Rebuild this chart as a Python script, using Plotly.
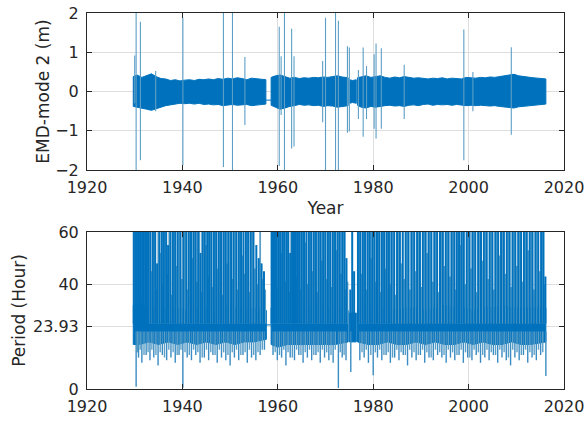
import plotly.graph_objects as go

# ---------------- EMD mode 2 (m): envelope of the dense oscillation ----------------
emd_years_a = [1929.7, 1930.5, 1931.5, 1932.5, 1933.5, 1934.5, 1935.5, 1936.5, 1937.5, 1938.5,
               1939.5, 1940.5, 1941.5, 1942.5, 1943.5, 1944.5, 1945.5, 1946.5, 1947.5, 1948.5,
               1949.5, 1950.5, 1951.5, 1952.5, 1953.5, 1954.5, 1955.5, 1956.5, 1957.5]
emd_hi_a = [0.38, 0.42, 0.36, 0.40, 0.45, 0.38, 0.33, 0.32, 0.28, 0.30, 0.27, 0.29, 0.30, 0.28,
            0.31, 0.30, 0.32, 0.30, 0.33, 0.31, 0.34, 0.32, 0.35, 0.33, 0.30, 0.34, 0.33, 0.31, 0.30]
emd_lo_a = [-0.38, -0.40, -0.42, -0.45, -0.48, -0.44, -0.40, -0.36, -0.33, -0.32, -0.30, -0.31,
            -0.30, -0.32, -0.30, -0.33, -0.32, -0.34, -0.33, -0.36, -0.34, -0.33, -0.35, -0.34,
            -0.33, -0.36, -0.34, -0.33, -0.32]

emd_years_b = [1958.6, 1959.5, 1960.5, 1961.5, 1962.5, 1963.5, 1964.5, 1965.5, 1966.5, 1967.5,
               1968.5, 1969.5, 1970.5, 1971.5, 1972.5, 1973.5, 1974.75]
emd_hi_b = [0.36, 0.40, 0.42, 0.38, 0.34, 0.36, 0.33, 0.35, 0.34, 0.36, 0.35, 0.37, 0.36, 0.38,
            0.40, 0.37, 0.35]
emd_lo_b = [-0.35, -0.40, -0.45, -0.42, -0.38, -0.36, -0.33, -0.35, -0.34, -0.36, -0.35, -0.38,
            -0.36, -0.37, -0.40, -0.38, -0.36]

emd_years_c = [1975.0, 1975.7, 1976.45]
emd_hi_c = [0.30, 0.28, 0.30]
emd_lo_c = [-0.30, -0.28, -0.30]

emd_years_d = [1976.7, 1977.5, 1978.5, 1979.5, 1980.5, 1981.5, 1982.5, 1983.5, 1984.5, 1985.5,
               1986.5, 1987.5, 1988.5, 1989.5, 1990.5, 1991.5, 1992.5, 1993.5, 1994.5, 1995.5,
               1996.5, 1997.5, 1998.5, 1999.5, 2000.5, 2001.5, 2002.5, 2003.5, 2004.5, 2005.5,
               2006.5, 2007.5, 2008.5, 2009.5, 2010.5, 2011.5, 2012.5, 2013.5, 2014.5, 2015.5,
               2016.2]
emd_hi_d = [0.35, 0.38, 0.40, 0.36, 0.38, 0.40, 0.36, 0.34, 0.37, 0.35, 0.38, 0.36, 0.34, 0.35,
            0.33, 0.32, 0.34, 0.33, 0.35, 0.32, 0.34, 0.33, 0.32, 0.36, 0.35, 0.34, 0.36, 0.35,
            0.37, 0.36, 0.38, 0.40, 0.42, 0.44, 0.40, 0.38, 0.36, 0.35, 0.34, 0.33, 0.32]
emd_lo_d = [-0.35, -0.40, -0.42, -0.38, -0.40, -0.38, -0.36, -0.35, -0.37, -0.36, -0.38, -0.35,
            -0.34, -0.36, -0.33, -0.32, -0.35, -0.33, -0.34, -0.33, -0.35, -0.33, -0.34, -0.36,
            -0.35, -0.36, -0.35, -0.36, -0.37, -0.36, -0.38, -0.40, -0.41, -0.42, -0.39, -0.37,
            -0.36, -0.35, -0.34, -0.33, -0.32]

# isolated EMD excursions: year, max, min
emd_spike_years = [1930.0, 1930.3, 1931.2, 1934.4, 1940.1, 1948.6, 1950.5, 1953.1, 1960.3, 1960.7,
                   1961.4, 1962.9, 1963.4, 1969.4, 1970.0, 1972.1, 1972.7, 1974.6, 1975.0, 1976.9,
                   1977.9, 1978.6, 1980.2, 1980.6, 1981.7, 1986.5, 1999.0, 2000.9, 2008.95]
emd_spike_max = [0.92, 2.0, 1.78, 0.52, 1.88, 2.0, 2.0, 0.88, 1.65, 0.90,
                 2.0, 1.60, 0.90, 0.78, 1.88, 2.0, 1.80, 1.15, 1.12, 0.55,
                 1.12, 0.65, 0.95, 1.22, 1.10, 0.68, 1.58, 0.50, 1.13]
emd_spike_min = [-0.30, -2.0, -1.75, -0.50, -1.88, -1.92, -2.0, -0.85, -1.90, -0.60,
                 -2.0, -1.45, -1.40, -0.78, -2.0, -2.0, -2.0, -1.05, -1.02, -0.70,
                 -1.15, -0.70, -0.95, -1.20, -0.95, -0.70, -1.75, -0.50, -1.10]

# data gap bridge (1957.5 - 1958.6)
emd_gap_years = [1957.5, 1958.6]
emd_gap_vals = [-0.22, -0.22]

# ---------------- Instantaneous period (hour) ----------------
per_years_a = [1929.7, 1931.0, 1933.0, 1935.0, 1937.0, 1939.0, 1941.0, 1943.0, 1945.0, 1947.0,
               1949.0, 1951.0, 1953.0, 1955.0, 1957.6]
per_hi_a = [32, 33, 31, 31, 30, 31, 30, 31, 31, 30, 31, 31, 30, 31, 30]
per_lo_a = [17, 17, 18, 17, 18, 17, 18, 17, 18, 17, 18, 17, 18, 18, 19]

per_years_b = [1958.6, 1960.0, 1962.0, 1964.0, 1966.0, 1968.0, 1970.0, 1972.0, 1974.75]
per_hi_b = [31, 32, 31, 31, 31, 32, 31, 32, 30]
per_lo_b = [17, 16, 17, 17, 17, 17, 17, 17, 18]

per_years_c = [1975.0, 1976.45]
per_hi_c = [29, 29]
per_lo_c = [18, 18]

per_years_d = [1976.7, 1979.0, 1981.0, 1983.0, 1985.0, 1987.0, 1989.0, 1991.0, 1993.0, 1995.0,
               1997.0, 1999.0, 2001.0, 2003.0, 2005.0, 2007.0, 2009.0, 2011.0, 2013.0, 2016.2]
per_hi_d = [31, 32, 31, 31, 30, 31, 31, 30, 31, 32, 31, 31, 30, 31, 31, 32, 31, 31, 31, 31]
per_lo_d = [18, 17, 17, 18, 17, 17, 18, 17, 18, 17, 17, 18, 17, 18, 17, 17, 18, 17, 17, 18]

per_gap_years = [1957.6, 1958.6]
per_gap_vals = [24.5, 24.5]

# upward period bursts: year, peak (60 = beyond axis top)
per_up_years = [1929.8, 1930.1, 1930.4, 1930.7, 1931.0, 1931.3, 1931.6, 1931.9, 1932.2, 1932.5,
                1932.8, 1933.3, 1933.8, 1934.3, 1934.7, 1935.2, 1935.7, 1936.1, 1936.6, 1937.0,
                1937.5, 1938.0, 1938.5, 1939.0, 1939.6, 1940.2, 1940.8, 1941.3, 1941.8, 1942.3,
                1942.8, 1943.3, 1943.8, 1944.2, 1944.7, 1945.2, 1945.6, 1946.1, 1946.6, 1947.1,
                1947.6, 1948.1, 1948.6, 1949.1, 1949.6, 1950.2, 1950.7, 1951.3, 1951.8, 1952.3,
                1952.8, 1953.3, 1953.8, 1954.3, 1954.9, 1955.5, 1956.0, 1956.6, 1957.1,
                1958.7, 1959.0, 1959.4, 1959.8, 1960.2, 1960.6, 1961.0, 1961.4, 1961.8, 1962.2,
                1962.6, 1963.0, 1963.4, 1963.8, 1964.2, 1964.6, 1965.0, 1965.5, 1966.0, 1966.5,
                1967.0, 1967.5, 1968.0, 1968.5, 1969.0, 1969.5, 1970.0, 1970.5, 1971.0, 1971.5,
                1972.0, 1972.5, 1973.0, 1973.5, 1974.0, 1974.4, 1975.2, 1975.6, 1976.0,
                1976.8, 1977.3, 1977.8, 1978.3, 1978.8, 1979.3, 1979.8, 1980.3, 1980.8, 1981.3,
                1981.8, 1982.3, 1982.8, 1983.3, 1983.8, 1984.4, 1985.0, 1985.6, 1986.2, 1986.8,
                1987.4, 1988.0, 1988.6, 1989.2, 1989.8, 1990.4, 1991.0, 1991.6, 1992.2, 1992.8,
                1993.4, 1994.0, 1994.6, 1995.2, 1995.8, 1996.4, 1997.0, 1997.5, 1998.0, 1998.5,
                1999.0, 1999.6, 2000.2, 2000.8, 2001.4, 2002.0, 2002.6, 2003.2, 2003.8, 2004.4,
                2005.0, 2005.6, 2006.2, 2006.8, 2007.4, 2008.0, 2008.6, 2009.2, 2009.8, 2010.4,
                2011.0, 2011.6, 2012.2, 2012.8, 2013.4, 2014.0, 2014.6, 2015.2, 2015.7, 2016.1]
per_up_peak = [60, 60, 60, 60, 60, 60, 60, 60, 60, 60,
               60, 60, 60, 60, 48, 60, 60, 60, 60, 55,
               60, 60, 60, 60, 60, 60, 60, 60, 60, 60,
               60, 60, 52, 60, 60, 60, 60, 60, 60, 60,
               60, 60, 60, 60, 60, 60, 60, 60, 60, 60,
               60, 60, 60, 60, 60, 55, 50, 48, 45,
               60, 60, 60, 60, 60, 60, 60, 60, 60, 60,
               52, 60, 60, 60, 60, 60, 60, 60, 60, 60,
               60, 60, 60, 60, 60, 60, 60, 60, 60, 60,
               60, 60, 60, 60, 60, 50, 38, 60, 45,
               60, 60, 60, 60, 60, 60, 60, 60, 60, 60,
               60, 60, 60, 60, 60, 60, 60, 60, 60, 60,
               60, 60, 60, 60, 60, 60, 60, 60, 60, 60,
               60, 60, 60, 60, 60, 60, 60, 60, 60, 60,
               60, 60, 60, 60, 60, 60, 60, 60, 60, 60,
               60, 60, 60, 60, 60, 60, 60, 60, 60, 60,
               60, 60, 60, 60, 60, 60, 60, 60, 60, 43]

# secondary bursts between the main ones (mixed heights)
per_up2_years = [1933.05, 1933.55, 1934.05, 1934.5, 1934.95, 1935.45, 1935.9, 1936.35, 1936.8,
                 1937.25, 1937.75, 1938.25, 1938.75, 1939.3, 1939.9, 1940.5, 1941.05, 1941.55,
                 1942.05, 1942.55, 1943.05, 1943.55, 1944.0, 1944.45, 1944.95, 1945.4, 1945.85,
                 1946.35, 1946.85, 1947.35, 1947.85, 1948.35, 1948.85, 1949.35, 1949.9, 1950.45,
                 1951.0, 1951.55, 1952.05, 1952.55, 1953.05, 1953.55, 1954.05, 1954.6, 1955.2,
                 1955.75, 1956.3, 1956.85, 1957.35,
                 1958.85, 1959.2, 1959.6, 1960.0, 1960.4, 1960.8, 1961.2, 1961.6, 1962.0, 1962.4,
                 1962.8, 1963.2, 1963.6, 1964.0, 1964.4, 1964.8, 1965.25, 1965.75, 1966.25,
                 1966.75, 1967.25, 1967.75, 1968.25, 1968.75, 1969.25, 1969.75, 1970.25, 1970.75,
                 1971.25, 1971.75, 1972.25, 1972.75, 1973.25, 1973.75, 1974.2, 1974.6,
                 1977.05, 1977.55, 1978.05, 1978.55, 1979.05, 1979.55, 1980.05, 1980.55, 1981.05,
                 1981.55, 1982.05, 1982.55, 1983.05, 1983.55, 1984.1, 1984.7, 1985.3, 1985.9,
                 1986.5, 1987.1, 1987.7, 1988.3, 1988.9, 1989.5, 1990.1, 1990.7, 1991.3, 1991.9,
                 1992.5, 1993.1, 1993.7, 1994.3, 1994.9, 1995.5, 1996.1, 1996.7, 1997.25, 1997.75,
                 1998.25, 1998.75, 1999.3, 1999.9, 2000.5, 2001.1, 2001.7, 2002.3, 2002.9, 2003.5,
                 2004.1, 2004.7, 2005.3, 2005.9, 2006.5, 2007.1, 2007.7, 2008.3, 2008.9, 2009.5,
                 2010.1, 2010.7, 2011.3, 2011.9, 2012.5, 2013.1, 2013.7, 2014.3, 2014.9, 2015.45,
                 2015.9]
per_up2_peak = [60, 45, 60, 38, 60, 52, 40, 60, 44, 60, 36, 60, 47, 60, 42, 60, 38, 60,
                50, 60, 41, 60, 37, 60, 55, 43, 60, 39, 60, 46, 60, 36, 60, 48, 60, 42,
                60, 38, 60, 51, 44, 60, 37, 60, 46, 40, 60, 42, 38,
                60, 46, 60, 39, 60, 52, 60, 41, 60, 37, 60, 48, 60, 43, 60, 38, 60, 56,
                40, 60, 45, 60, 37, 60, 49, 60, 42, 60, 39, 60, 53, 60, 44, 60, 38, 41,
                60, 44, 60, 38, 60, 50, 60, 41, 60, 37, 60, 46, 60, 40, 60, 36, 60, 48,
                42, 60, 38, 60, 45, 60, 39, 60, 52, 60, 41, 60, 37, 60, 47, 60, 43, 60,
                38, 60, 55, 60, 40, 60, 46, 60, 37, 60, 49, 60, 42, 60, 38, 60, 51, 60,
                44, 60, 39, 60, 47, 60, 41, 60, 53, 60, 38, 60, 45, 60, 40, 60, 43, 60,
                39]

# downward period dips: year, minimum
per_dn_years = [1930.3, 1930.8, 1931.5, 1932.4, 1933.2, 1934.0, 1934.9, 1935.8, 1936.7, 1937.6,
                1938.5, 1939.3, 1940.1, 1941.0, 1941.9, 1942.8, 1943.7, 1944.6, 1945.5, 1946.4,
                1947.3, 1948.2, 1949.1, 1950.0, 1950.9, 1951.8, 1952.7, 1953.6, 1954.5, 1955.4,
                1956.3, 1957.2, 1959.0, 1959.9, 1960.8, 1961.7, 1962.6, 1963.5, 1964.4, 1965.3,
                1966.2, 1967.1, 1968.0, 1968.9, 1969.8, 1970.7, 1971.6, 1972.7, 1973.5, 1974.3,
                1975.3, 1977.2, 1978.1, 1979.0, 1980.0, 1980.9, 1981.8, 1982.7, 1983.6, 1984.5,
                1985.4, 1986.3, 1987.2, 1988.1, 1989.0, 1989.9, 1990.8, 1991.7, 1992.6, 1993.5,
                1994.4, 1995.3, 1996.2, 1997.1, 1998.0, 1998.9, 1999.8, 2000.7, 2001.6, 2002.5,
                2003.4, 2004.3, 2005.2, 2006.1, 2007.0, 2007.9, 2008.8, 2009.7, 2010.6, 2011.5,
                2012.4, 2013.3, 2014.2, 2015.1, 2016.2]
per_dn_min = [0.9, 12, 10, 13, 11, 12, 9, 13, 11, 12,
              10, 13, 0.5, 12, 11, 13, 10, 12, 11, 13,
              10, 12, 11, 9, 12, 11, 13, 10, 12, 11,
              13, 15, 13, 11, 12, 9, 12, 11, 13, 10,
              12, 11, 13, 10, 12, 11, 10, 0.4, 12, 11,
              6.5, 11, 12, 10, 5.3, 12, 11, 13, 10, 12,
              11, 13, 9, 12, 11, 13, 10, 12, 11, 13,
              12, 10, 12, 11, 13, 10, 12, 11, 13, 10,
              12, 11, 13, 10, 12, 11, 9, 12, 11, 13,
              10, 12, 11, 13, 5.0]

# shallower dips between the deep ones
per_dn2_years = [1930.55, 1931.15, 1931.95, 1932.8, 1933.6, 1934.45, 1935.35, 1936.25, 1937.15,
                 1938.05, 1938.9, 1939.7, 1940.55, 1941.45, 1942.35, 1943.25, 1944.15, 1945.05,
                 1945.95, 1946.85, 1947.75, 1948.65, 1949.55, 1950.45, 1951.35, 1952.25, 1953.15,
                 1954.05, 1954.95, 1955.85, 1956.75, 1959.45, 1960.35, 1961.25, 1962.15, 1963.05,
                 1963.95, 1964.85, 1965.75, 1966.65, 1967.55, 1968.45, 1969.35, 1970.25, 1971.15,
                 1972.05, 1973.1, 1973.9, 1977.65, 1978.55, 1979.5, 1980.45, 1981.35, 1982.25,
                 1983.15, 1984.05, 1984.95, 1985.85, 1986.75, 1987.65, 1988.55, 1989.45, 1990.35,
                 1991.25, 1992.15, 1993.05, 1993.95, 1994.85, 1995.75, 1996.65, 1997.55, 1998.45,
                 1999.35, 2000.25, 2001.15, 2002.05, 2002.95, 2003.85, 2004.75, 2005.65, 2006.55,
                 2007.45, 2008.35, 2009.25, 2010.15, 2011.05, 2011.95, 2012.85, 2013.75, 2014.65,
                 2015.55]
per_dn2_min = [14, 15, 13, 14, 15, 13, 14, 12, 15, 14, 13, 15, 14, 13, 15, 14, 12, 15,
               14, 13, 15, 14, 13, 14, 15, 13, 14, 15, 13, 14, 15, 14, 13, 15, 14, 12,
               15, 13, 14, 15, 13, 14, 15, 14, 13, 15, 14, 13, 14, 15, 13, 14, 15, 13,
               14, 12, 15, 14, 13, 15, 14, 13, 15, 14, 12, 15, 14, 13, 15, 14, 13, 15,
               14, 12, 15, 14, 13, 15, 14, 13, 15, 14, 12, 15, 14, 13, 15, 14, 13, 15,
               14]

BLUE = "#0072BD"
SPIKE = "#3a8cc2"
LIGHT = "#5c9fc6"
INK = "#262626"
GRID = "#dedede"


def band(years, hi, lo, xa, ya):
    """Closed polygon running along the upper envelope and back along the lower one."""
    xs = list(years) + list(years)[::-1] + [years[0]]
    ys = list(hi) + list(lo)[::-1] + [hi[0]]
    return go.Scatter(x=xs, y=ys, mode="lines", fill="toself", fillcolor=BLUE,
                      line=dict(color=BLUE, width=1), xaxis=xa, yaxis=ya,
                      hoverinfo="skip", showlegend=False)


def spikes(years, top, bottom, xa, ya, color=SPIKE, width=1.2):
    xs, ys = [], []
    for yr, a, b in zip(years, top, bottom):
        xs += [yr, yr, None]
        ys += [b, a, None]
    return go.Scatter(x=xs, y=ys, mode="lines", line=dict(color=color, width=width),
                      xaxis=xa, yaxis=ya, hoverinfo="skip", showlegend=False)


fig = go.Figure()

# top panel
for yrs, hi, lo in [(emd_years_a, emd_hi_a, emd_lo_a), (emd_years_b, emd_hi_b, emd_lo_b),
                    (emd_years_c, emd_hi_c, emd_lo_c), (emd_years_d, emd_hi_d, emd_lo_d)]:
    fig.add_trace(band(yrs, hi, lo, "x", "y"))
fig.add_trace(go.Scatter(x=emd_gap_years, y=emd_gap_vals, mode="lines",
                         line=dict(color=BLUE, width=1), hoverinfo="skip", showlegend=False))
fig.add_trace(spikes(emd_spike_years, emd_spike_max, emd_spike_min, "x", "y",
                     color=LIGHT, width=1.1))

# bottom panel
for yrs, hi, lo in [(per_years_a, per_hi_a, per_lo_a), (per_years_b, per_hi_b, per_lo_b),
                    (per_years_c, per_hi_c, per_lo_c), (per_years_d, per_hi_d, per_lo_d)]:
    fig.add_trace(band(yrs, hi, lo, "x2", "y2"))
fig.add_trace(go.Scatter(x=per_gap_years, y=per_gap_vals, mode="lines", xaxis="x2", yaxis="y2",
                         line=dict(color=BLUE, width=1), hoverinfo="skip", showlegend=False))
fig.add_trace(spikes(per_up2_years, per_up2_peak, [25] * len(per_up2_years), "x2", "y2",
                     color=LIGHT, width=1.8))
fig.add_trace(spikes(per_up_years, per_up_peak, [25] * len(per_up_years), "x2", "y2",
                     color=BLUE, width=2.0))
fig.add_trace(spikes(per_dn2_years, [22] * len(per_dn2_years), per_dn2_min, "x2", "y2",
                     color=LIGHT, width=1.4))
fig.add_trace(spikes(per_dn_years, [22] * len(per_dn_years), per_dn_min, "x2", "y2",
                     color=SPIKE, width=1.4))

year_ticks = [1920, 1940, 1960, 1980, 2000, 2020]
axis_common = dict(showline=True, linecolor=INK, linewidth=1, mirror="ticks", ticks="inside",
                   ticklen=5, tickcolor=INK, showgrid=True, gridcolor=GRID, gridwidth=1,
                   zeroline=False, automargin=False,
                   tickfont=dict(family="DejaVu Sans", size=16, color=INK))

fig.update_layout(
    width=588, height=421,
    margin=dict(l=87, r=24, t=13, b=32),
    paper_bgcolor="white", plot_bgcolor="white",
    font=dict(family="DejaVu Sans", color=INK),
    showlegend=False,
    xaxis=dict(domain=[0, 1], anchor="y", range=[1920, 2020], tickvals=year_ticks,
               title=dict(text="Year", font=dict(size=17, color=INK), standoff=5),
               ticklabelstandoff=3, **axis_common),
    yaxis=dict(domain=[0.5824, 1], anchor="x", range=[-2, 2], tickvals=[-2, -1, 0, 1, 2],
               title=dict(text="EMD-mode 2 (m)", font=dict(size=17, color=INK), standoff=1),
               ticklabelstandoff=4, **axis_common),
    xaxis2=dict(domain=[0, 1], anchor="y2", range=[1920, 2020], tickvals=year_ticks,
                ticklabelstandoff=3, **axis_common),
    yaxis2=dict(domain=[0, 0.4176], anchor="x2", range=[0, 60], tickvals=[0, 23.93, 40, 60],
                ticktext=["0", "23.93", "40", "60"],
                title=dict(text="Period (Hour)", font=dict(size=17, color=INK), standoff=3),
                ticklabelstandoff=4, **axis_common),
)

fig.write_html("out.html")
